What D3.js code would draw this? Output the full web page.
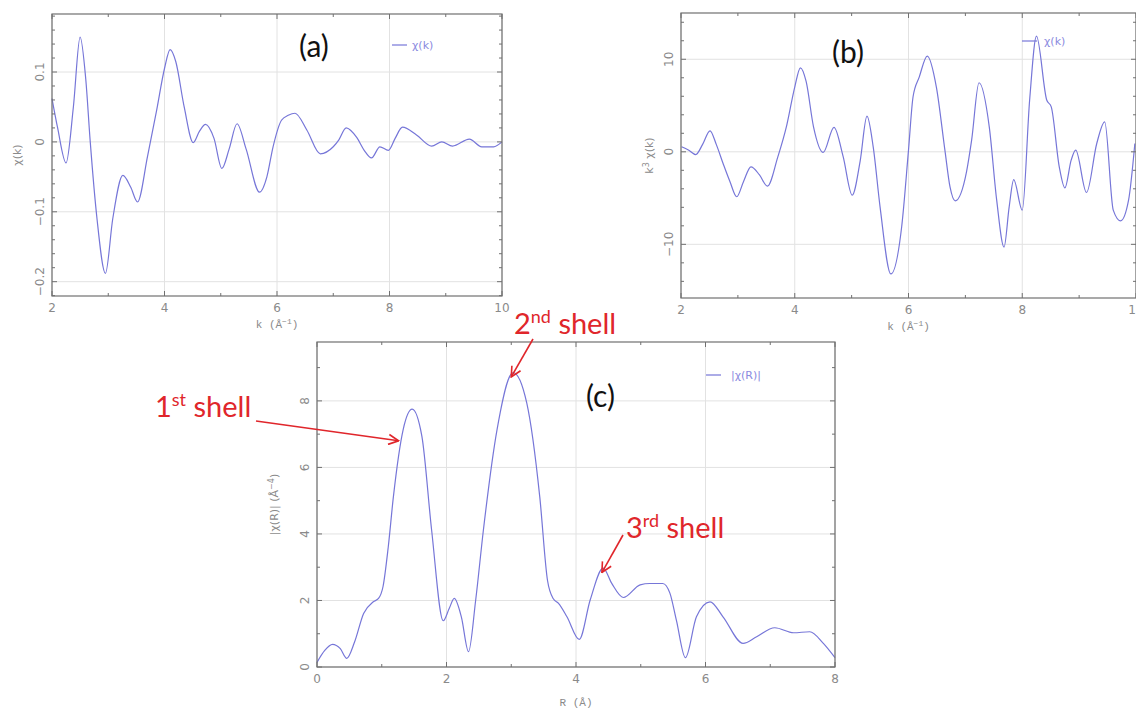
<!DOCTYPE html>
<html>
<head>
<meta charset="utf-8">
<script src="https://cdn.jsdelivr.net/npm/d3@7"></script>
<style>
  body { margin: 0; background: #fff; }
  svg { display: block; }
  .tick-label { font-family: "DejaVu Sans", sans-serif; font-size: 12px; fill: #8a8a8a; }
  .axis-label { font-family: "Liberation Mono", monospace; font-size: 11px; fill: #8a8a8a; }
  .legend-text { font-family: "DejaVu Sans", sans-serif; font-size: 11px; fill: #8a8ae0; }
  .panel-tag { font-family: "Lato", "Open Sans", sans-serif; font-size: 30px; fill: #111; }
  .shell { font-family: "Lato", "Open Sans", sans-serif; font-size: 29px; fill: #e0262b; }
</style>
</head>
<body>
<svg width="1136" height="709"></svg>
<script>
let width = 1136;
let height = 709;

// (a) chi(k)
let kA = [2.0, 2.1, 2.25, 2.38, 2.5, 2.6, 2.68, 2.8, 2.95, 3.08, 3.26, 3.4, 3.52, 3.7, 3.86, 4.0, 4.1, 4.2, 4.35, 4.51, 4.62, 4.73, 4.88, 5.02, 5.15, 5.29, 5.45, 5.69, 5.82, 5.93, 6.08, 6.2, 6.32, 6.53, 6.77, 7.0, 7.1, 7.23, 7.42, 7.55, 7.68, 7.83, 7.98, 8.1, 8.23, 8.48, 8.75, 8.93, 9.12, 9.42, 9.64, 9.85, 10.0];
let chiA = [0.062, 0.02, -0.030, 0.05, 0.150, 0.09, 0.0, -0.11, -0.188, -0.11, -0.048, -0.065, -0.086, -0.02, 0.045, 0.105, 0.132, 0.115, 0.05, -0.001, 0.015, 0.025, 0.005, -0.038, -0.01, 0.026, -0.01, -0.072, -0.05, -0.007, 0.031, 0.038, 0.041, 0.017, -0.017, -0.007, 0.003, 0.020, 0.006, -0.012, -0.023, -0.007, -0.012, 0.005, 0.021, 0.010, -0.006, 0.000, -0.006, 0.004, -0.007, -0.007, 0.000];

// (b) k^3 chi(k)
let kB = [2.01, 2.13, 2.26, 2.38, 2.51, 2.62, 2.74, 2.86, 2.98, 3.1, 3.23, 3.38, 3.52, 3.7, 3.86, 4.0, 4.10, 4.2, 4.33, 4.5, 4.69, 4.85, 5.01, 5.15, 5.27, 5.38, 5.5, 5.69, 5.88, 6.0, 6.08, 6.19, 6.33, 6.49, 6.64, 6.73, 6.82, 7.02, 7.11, 7.24, 7.42, 7.55, 7.68, 7.77, 7.85, 8.0, 8.13, 8.25, 8.43, 8.51, 8.65, 8.75, 8.86, 8.94, 9.13, 9.31, 9.45, 9.6, 9.73, 9.87, 9.98];
let chiB = [0.54, 0.2, -0.3, 0.8, 2.27, 0.8, -1.26, -3.2, -4.86, -3.2, -1.62, -2.5, -3.71, -0.6, 2.89, 7.0, 9.08, 7.6, 2.7, -0.07, 2.64, -0.5, -4.68, -1.0, 3.86, 0.5, -5.95, -13.2, -8.1, 0.18, 5.95, 8.1, 10.35, 7.0, 0.18, -3.8, -5.3, -2.16, 1.26, 7.46, 2.7, -5.2, -10.3, -5.95, -3.0, -6.3, 5.6, 12.5, 5.6, 4.86, -1.6, -3.9, -0.9, 0.18, -4.4, 0.9, 3.24, -6.3, -7.46, -5.2, 0.9];

// (c) |chi(R)|
let rC = [0.0, 0.12, 0.24, 0.36, 0.46, 0.58, 0.72, 0.87, 0.95, 1.02, 1.1, 1.18, 1.33, 1.47, 1.62, 1.77, 1.95, 2.04, 2.12, 2.23, 2.34, 2.45, 2.57, 2.78, 3.03, 3.24, 3.44, 3.56, 3.65, 3.73, 3.86, 4.05, 4.22, 4.42, 4.55, 4.73, 4.99, 5.14, 5.34, 5.45, 5.55, 5.69, 5.86, 6.07, 6.27, 6.58, 6.79, 7.07, 7.36, 7.61, 7.82, 8.0];
let absC = [0.14, 0.5, 0.68, 0.55, 0.26, 0.75, 1.61, 1.96, 2.06, 2.42, 3.6, 5.12, 7.13, 7.75, 6.93, 4.12, 1.39, 1.75, 2.06, 1.5, 0.46, 2.0, 4.12, 7.13, 8.85, 7.93, 5.12, 2.6, 2.05, 1.91, 1.51, 0.83, 2.02, 2.97, 2.52, 2.09, 2.47, 2.51, 2.51, 2.22, 1.41, 0.28, 1.51, 1.96, 1.51, 0.71, 0.91, 1.18, 1.03, 1.06, 0.71, 0.28];

let xTicksA = [2, 4, 6, 8, 10];
let yTicksA = [-0.2, -0.1, 0, 0.1];
let xTicksB = [2, 4, 6, 8, 10];
let yTicksB = [-10, 0, 10];
let xTicksC = [0, 2, 4, 6, 8];
let yTicksC = [0, 2, 4, 6, 8];

let lineColor = '#7676d8';

let svg = d3.select('svg')
  .attr('width', width)
  .attr('height', height);

svg.append('defs')
  .append('marker')
    .attr('id', 'head')
    .attr('viewBox', '0 0 12 12')
    .attr('refX', 11)
    .attr('refY', 6)
    .attr('markerWidth', 12)
    .attr('markerHeight', 12)
    .attr('markerUnits', 'userSpaceOnUse')
    .attr('orient', 'auto')
  .append('path')
    .attr('d', 'M1,1 L11,6 L1,11')
    .attr('fill', 'none')
    .attr('stroke', '#e0262b')
    .attr('stroke-width', 1.6);

function fmt(v) {
  return String(v).replace('-', '\u2212');
}

function drawPanel(p) {
  let x = d3.scaleLinear().domain(p.xDomain).range([p.left, p.right]);
  let y = d3.scaleLinear().domain(p.yDomain).range([p.bottom, p.top]);
  let g = svg.append('g');

  // grid
  g.selectAll('.vgrid')
    .data(p.xTicks)
    .enter()
    .append('line')
      .attr('x1', d => x(d)).attr('x2', d => x(d))
      .attr('y1', p.top).attr('y2', p.bottom)
      .attr('stroke', '#e2e2e2');
  g.selectAll('.hgrid')
    .data(p.yTicks)
    .enter()
    .append('line')
      .attr('y1', d => y(d)).attr('y2', d => y(d))
      .attr('x1', p.left).attr('x2', p.right)
      .attr('stroke', '#e2e2e2');

  // curve
  let line = d3.line()
    .x(d => x(d[0]))
    .y(d => y(d[1]))
    .curve(d3.curveMonotoneX);
  g.append('path')
    .datum(p.xs.map((v, i) => [v, p.ys[i]]))
    .attr('d', line)
    .attr('fill', 'none')
    .attr('stroke', lineColor)
    .attr('stroke-width', 1.2);

  // frame
  g.append('rect')
    .attr('x', p.left).attr('y', p.top)
    .attr('width', p.right - p.left).attr('height', p.bottom - p.top)
    .attr('fill', 'none')
    .attr('stroke', '#707070')
    .attr('stroke-width', 1.2);

  // inward ticks on all sides
  let xMinor = d3.range(p.xDomain[0], p.xDomain[1] + 1e-9, p.xMinor);
  let yMinor = d3.range(Math.ceil(p.yDomain[0] / p.yMinor) * p.yMinor, p.yDomain[1], p.yMinor);
  [[p.bottom, -1], [p.top, 1]].forEach(([yy, s]) => {
    g.selectAll(null)
      .data(xMinor)
      .enter()
      .append('line')
        .attr('x1', d => x(d)).attr('x2', d => x(d))
        .attr('y1', yy).attr('y2', d => yy + s * (p.xTicks.some(t => Math.abs(t - d) < 1e-9) ? 5 : 3))
        .attr('stroke', '#707070');
  });
  [[p.left, 1], [p.right, -1]].forEach(([xx, s]) => {
    g.selectAll(null)
      .data(yMinor)
      .enter()
      .append('line')
        .attr('y1', d => y(d)).attr('y2', d => y(d))
        .attr('x1', xx).attr('x2', d => xx + s * (p.yTicks.some(t => Math.abs(t - d) < 1e-9) ? 5 : 3))
        .attr('stroke', '#707070');
  });

  // tick labels
  g.selectAll(null)
    .data(p.xTicks)
    .enter()
    .append('text')
      .attr('class', 'tick-label')
      .attr('x', d => x(d))
      .attr('y', p.bottom + 16)
      .style('text-anchor', 'middle')
      .text(d => fmt(d));
  g.selectAll(null)
    .data(p.yTicks)
    .enter()
    .append('text')
      .attr('class', 'tick-label')
      .attr('transform', d => `translate(${p.left - 8}, ${y(d)}) rotate(-90)`)
      .style('text-anchor', 'middle')
      .text(d => fmt(d));

  // axis labels
  g.append('text')
    .attr('class', 'axis-label')
    .attr('x', (p.left + p.right) / 2)
    .attr('y', p.bottom + p.xLabelGap)
    .style('text-anchor', 'middle')
    .html(p.xLabel);
  g.append('text')
    .attr('class', 'axis-label')
    .attr('transform', `translate(${p.yLabelX}, ${(p.top + p.bottom) / 2}) rotate(-90)`)
    .style('text-anchor', 'middle')
    .style('font-family', '"DejaVu Sans", sans-serif')
    .html(p.yLabel);

  // legend
  g.append('line')
    .attr('x1', p.legend[0]).attr('x2', p.legend[0] + 15)
    .attr('y1', p.legend[1]).attr('y2', p.legend[1])
    .attr('stroke', lineColor)
    .attr('stroke-width', 1.2);
  g.append('text')
    .attr('class', 'legend-text')
    .attr('x', p.legend[0] + p.legendGap)
    .attr('y', p.legend[1] + 4)
    .text(p.legendText);

  // panel tag
  g.append('text')
    .attr('class', 'panel-tag')
    .attr('x', p.tag[0])
    .attr('y', p.tag[1])
    .text(p.tagText);

  return { x, y };
}

drawPanel({
  xs: kA, ys: chiA, xTicks: xTicksA, yTicks: yTicksA,
  xDomain: [2, 10], yDomain: [-0.2205, 0.183], xMinor: 1, yMinor: 0.02,
  left: 52, right: 502, top: 14, bottom: 296,
  xLabel: 'k (Å<tspan dy="-4" font-size="8">\u22121</tspan><tspan dy="4">)</tspan>', xLabelGap: 32,
  yLabel: 'χ(k)', yLabelX: 21,
  legend: [392, 45], legendGap: 20, legendText: 'χ(k)',
  tag: [299, 57], tagText: '(a)'
});

drawPanel({
  xs: kB, ys: chiB, xTicks: xTicksB, yTicks: yTicksB,
  xDomain: [2, 10], yDomain: [-15.8, 15], xMinor: 1, yMinor: 2,
  left: 681, right: 1136, top: 13, bottom: 298,
  xLabel: 'k (Å<tspan dy="-4" font-size="8">\u22121</tspan><tspan dy="4">)</tspan>', xLabelGap: 32,
  yLabel: 'k<tspan dy="-4" font-size="8">3</tspan><tspan dy="4"> χ(k)</tspan>', yLabelX: 653,
  legend: [1022, 41], legendGap: 22, legendText: 'χ(k)',
  tag: [832, 63], tagText: '(b)'
});

let pc = drawPanel({
  xs: rC, ys: absC, xTicks: xTicksC, yTicks: yTicksC,
  xDomain: [0, 8], yDomain: [0, 9.77], xMinor: 1, yMinor: 1,
  left: 317, right: 835, top: 342, bottom: 667,
  xLabel: 'R (Å)', xLabelGap: 39,
  yLabel: '|χ(R)| (Å<tspan dy="-4" font-size="8">\u22124</tspan><tspan dy="4">)</tspan>', yLabelX: 278,
  legend: [706, 375], legendGap: 25, legendText: '|χ(R)|',
  tag: [586, 407], tagText: '(c)'
});

// shell annotations: label position, arrow tail and arrow tip (tip in data units)
let shellNames = ['1', '2', '3'];
let shellSups = ['st', 'nd', 'rd'];
let shellTips = [[1.26, 6.8], [3.0, 8.72], [4.4, 2.84]];

let shellLayout = [
  { tx: 155, ty: 417, ax: 256, ay: 421 },
  { tx: 514, ty: 334, ax: 533, ay: 339 },
  { tx: 626, ty: 538, ax: 623, ay: 535 }
];

shellNames.forEach((n, i) => {
  let L = shellLayout[i];
  let t = svg.append('text')
    .attr('class', 'shell')
    .attr('x', L.tx)
    .attr('y', L.ty);
  t.append('tspan').text(n);
  t.append('tspan').attr('dy', -11).style('font-size', '18px').text(shellSups[i]);
  t.append('tspan').attr('dy', 11).text(' shell');

  svg.append('line')
    .attr('x1', L.ax).attr('y1', L.ay)
    .attr('x2', pc.x(shellTips[i][0])).attr('y2', pc.y(shellTips[i][1]))
    .attr('stroke', '#e0262b')
    .attr('stroke-width', 1.6)
    .attr('marker-end', 'url(#head)');
});
</script>
</body>
</html>
